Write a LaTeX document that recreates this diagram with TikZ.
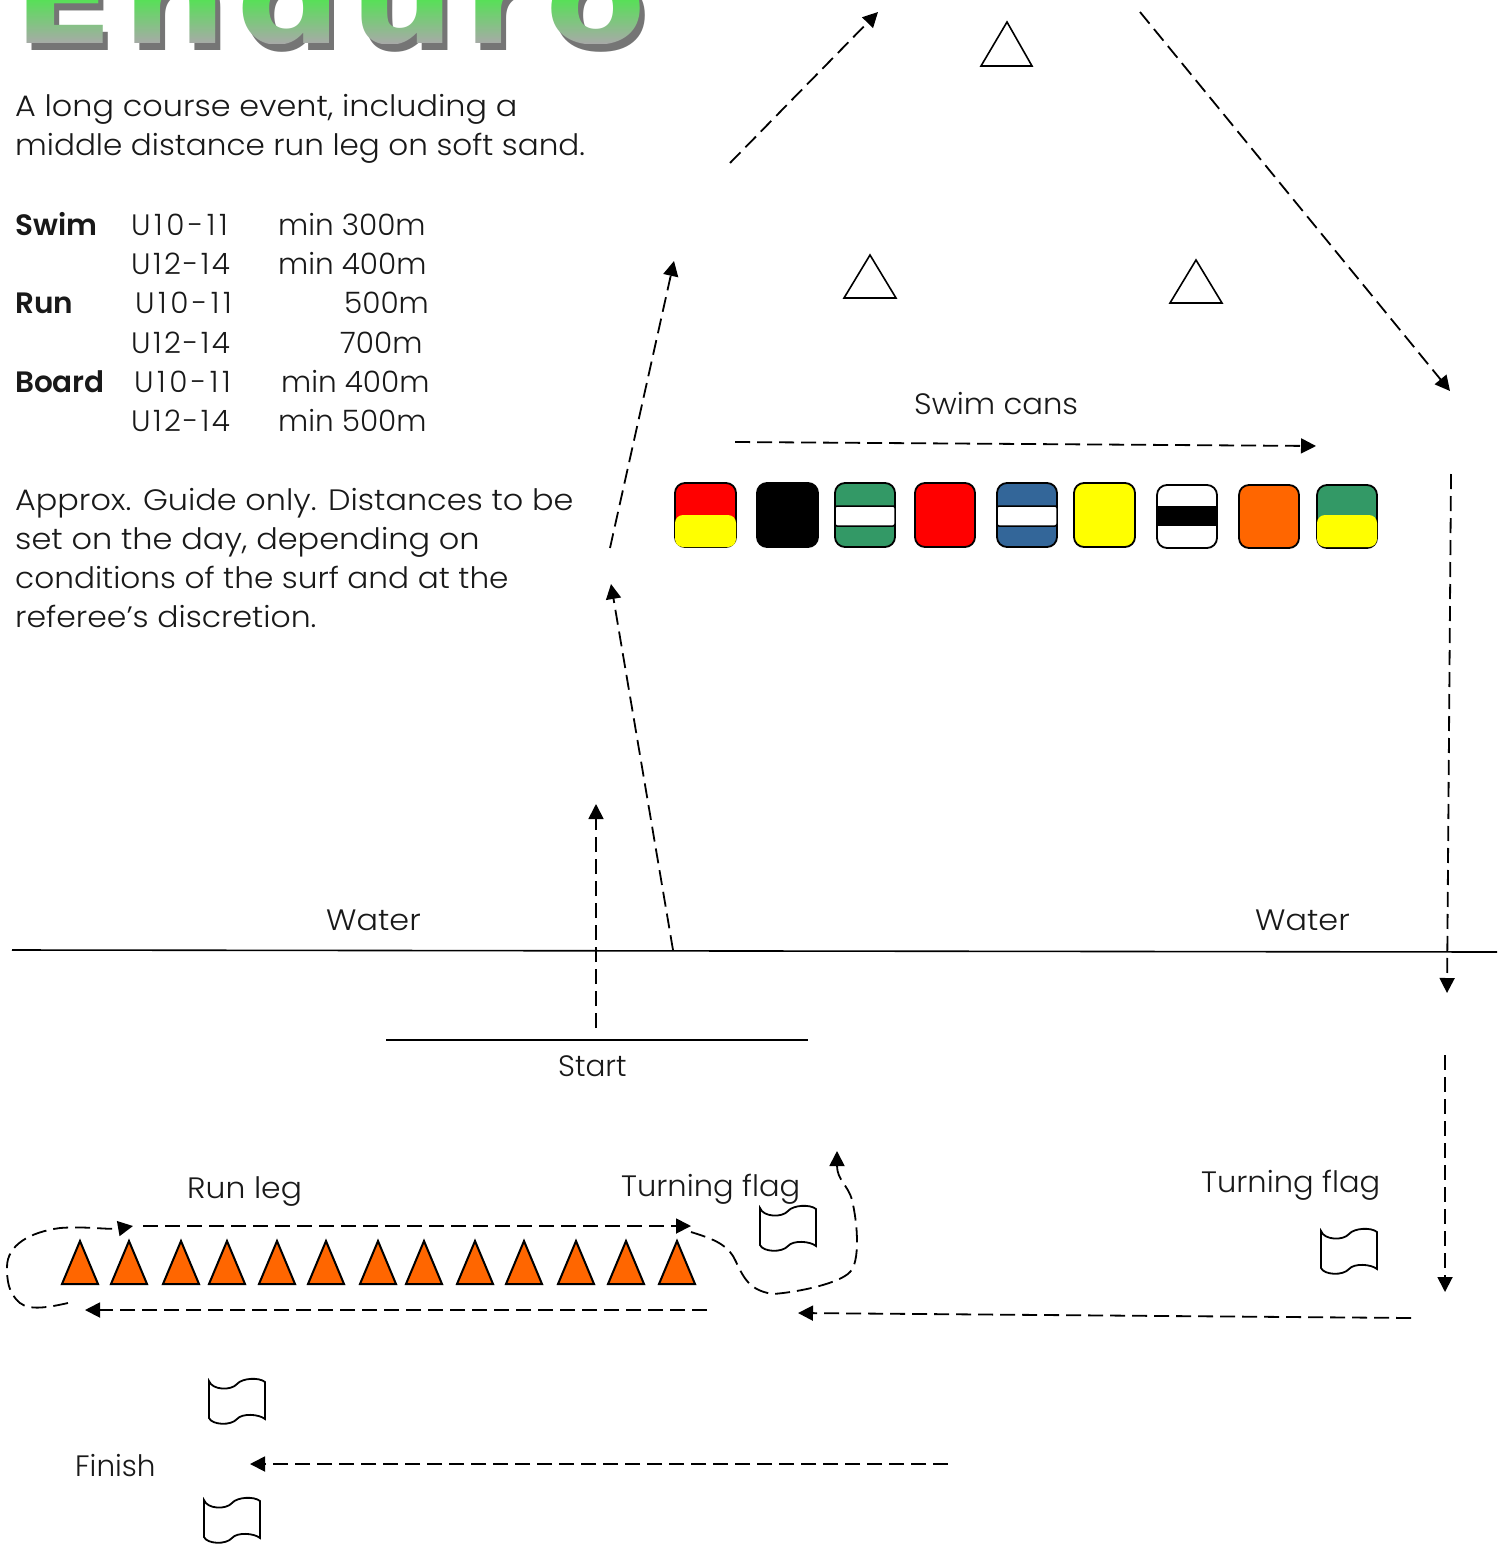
\documentclass[tikz,border=0pt]{standalone}
\usepackage{graphicx}
\usepackage{fontspec}
\setmainfont{Poppins Light}[BoldFont={Poppins SemiBold}]
\newfontfamily\titlefont{DejaVu Sans Bold}
\usetikzlibrary{arrows.meta,fadings}
\definecolor{cone}{HTML}{FF6600}
\definecolor{cgreen}{HTML}{339966}
\definecolor{cblue}{HTML}{336699}
\definecolor{cyel}{HTML}{FFFF00}
\definecolor{cred}{HTML}{FF0000}
\definecolor{tgreen}{HTML}{58DF58}
\definecolor{tgray}{HTML}{A9A9A9}
\definecolor{tshadow}{HTML}{757575}
\newcommand\sx[2]{\scalebox{#1}[1]{#2}}
\newcommand\ageA[1]{{\addfontfeature{LetterSpace=12}#1}}
\newcommand\ageB[1]{{\addfontfeature{LetterSpace=8}#1}}
\newcommand\wordtitle{\scalebox{1.15}[1]{\titlefont\addfontfeature{LetterSpace=6}\fontsize{128}{128}\selectfont Enduro}}
\tikzset{
 lab/.style={anchor=base west,inner sep=0pt,font=\fontsize{29.5}{30}\selectfont,text=black!90},
 blab/.style={lab,font=\fontsize{29.5}{30}\selectfont\bfseries},
 dashline/.style={line width=1.8pt,dash pattern=on 15pt off 7pt,-{Triangle[length=15pt,width=15pt]}},
 tri/.style={draw=black,line width=1.6pt,line join=miter},
 conetri/.style={tri,fill=cone,line width=2pt},
 can/.style={draw=black,line width=1.8pt,rounded corners=10pt},
 flag/.pic={\draw[line width=1.8pt,fill=white] (0,0) .. controls (3,9) and (22,10) .. (28,3) .. controls (33,-3) and (50,-4) .. (56,1) -- (56,38) .. controls (50,33) and (33,32) .. (28,38) .. controls (22,45) and (3,44) .. (0,37) -- cycle;},
}
\begin{tikzfadingfrompicture}[name=endurofade]
 \node[text=transparent!0,inner sep=0pt,anchor=center] at (0,0) {\wordtitle};
\end{tikzfadingfrompicture}
\begin{document}
\begin{tikzpicture}[x=1pt,y=-1pt]
\useasboundingbox (0,0) rectangle (1506,1544);
\fill[white] (0,0) rectangle (1506,1544);
% title
\begin{scope}
\clip (0,0) rectangle (1506,60);
\node[inner sep=0pt,anchor=base west,text=tshadow] (titleshadow) at (18,51) {\wordtitle};
\end{scope}
\coordinate (titlec) at ([shift={(-5,-7)}]titleshadow.center);
\path[path fading=endurofade,fit fading=false,fading transform={shift={(titlec)}},top color=tgreen,bottom color=tgray] (0,0) rectangle (700,44);
% text
\node[lab] (a1) at (15,117) {\sx{1.08}{A long course event, including a}};
\node[lab] (a2) at (15,156) {\sx{1.053}{middle distance run leg on soft sand.}};
\node[blab] (s0) at (15,235) {Swim};
\node[lab] (s1) at (131,235) {\ageA{U10-11}};
\node[lab] (s2) at (278,235) {min 300m};
\node[lab] (s3) at (131,274) {\ageB{U12-14}};
\node[lab] (s4) at (278,274) {min 400m};
\node[blab] (r0) at (15,313) {Run};
\node[lab] (r1) at (135,313) {\ageA{U10-11}};
\node[lab] (r2) at (344,313) {500m};
\node[lab] (r3) at (131,353) {\ageB{U12-14}};
\node[lab] (r4) at (340,353) {700m};
\node[blab] (b0) at (15,392) {Board};
\node[lab] (b1) at (134,392) {\ageA{U10-11}};
\node[lab] (b2) at (281,392) {min 400m};
\node[lab] (b3) at (131,431) {\ageB{U12-14}};
\node[lab] (b4) at (278,431) {min 500m};
\node[lab] (n1) at (15,510) {\sx{1.08}{Approx. Guide only. Distances to be}};
\node[lab] (n2) at (15,549) {\sx{1.084}{set on the day, depending on}};
\node[lab] (n3) at (15,588) {\sx{1.056}{conditions of the surf and at the}};
\node[lab] (n4) at (15,627) {\sx{1.067}{referee’s discretion.}};
\node[lab] (swimcans) at (914,414) {\sx{1.04}{Swim cans}};
\node[lab] (w1) at (326,930) {\sx{1.08}{Water}};
\node[lab] (w2) at (1255,930) {\sx{1.08}{Water}};
\node[lab] (start) at (558,1076) {Start};
\node[lab] (runleg) at (187,1198) {\sx{1.065}{Run leg}};
\node[lab] (tf1) at (621,1196) {\sx{1.035}{Turning flag}};
\node[lab] (tf2) at (1201,1192) {\sx{1.035}{Turning flag}};
\node[lab] (finish) at (75,1476) {Finish};
% swim triangles
\draw[tri] (1007,22) -- (981,66) -- (1032,66) -- cycle;
\draw[tri] (870,255) -- (844,298) -- (896,298) -- cycle;
\draw[tri] (1196,260) -- (1170,303) -- (1222,303) -- cycle;
% cans
\draw[can,fill=cred] (675,483) rectangle (736,547);
\fill[cyel,rounded corners=8pt] (675,515) rectangle (736,547);
\draw[can,fill=black] (757,483) rectangle (818,547);
\draw[can,fill=cgreen] (835,483) rectangle (895,547);
\draw[fill=white,line width=1.5pt,rounded corners=2pt] (835,506) rectangle (895,526);
\draw[can,fill=cred] (915,483) rectangle (975,547);
\draw[can,fill=cblue] (997,483) rectangle (1057,547);
\draw[fill=white,line width=1.5pt,rounded corners=2pt] (997,506) rectangle (1057,526);
\draw[can,fill=cyel] (1074,483) rectangle (1135,547);
\draw[can,fill=white] (1157,485) rectangle (1217,548);
\fill[black] (1157,506) rectangle (1217,526);
\draw[can,fill=cone] (1239,485) rectangle (1299,548);
\draw[can,fill=cgreen] (1317,485) rectangle (1377,548);
\fill[cyel,rounded corners=8pt] (1317,515) rectangle (1377,547);
% cones
\foreach \xa in {62,111,163,209,259,308,360,406,457,506,558,608,659}
  \draw[conetri] (\xa+18,1241) -- (\xa,1284) -- (\xa+36,1284) -- cycle;
% flags
\pic at (760,1208) {flag};
\pic at (1321,1231) {flag};
\pic at (209,1381) {flag};
\pic at (204,1500) {flag};
% lines
\coordinate (wl) at (12,950); \coordinate (wr) at (1497,952);
\draw[line width=1.6pt] (wl) -- (wr);
\coordinate (sl) at (386,1040); \coordinate (sr) at (808,1040);
\draw[line width=1.6pt] (sl) -- (sr);
% connectors
\coordinate (c1a) at (730,163); \coordinate (c1b) at (878,12);
\draw[dashline] (c1a) -- (c1b);
\coordinate (c2a) at (1140,12); \coordinate (c2b) at (1450,391);
\draw[dashline] (c2a) -- (c2b);
\coordinate (c3a) at (610,548); \coordinate (c3b) at (674,261);
\draw[dashline] (c3a) -- (c3b);
\coordinate (c4a) at (673,950); \coordinate (c4b) at (611,584);
\draw[dashline] (c4a) -- (c4b);
\coordinate (c5a) at (596,1028); \coordinate (c5b) at (596,804);
\draw[dashline] (c5a) -- (c5b);
\coordinate (c6a) at (735,442); \coordinate (c6b) at (1316,446);
\draw[dashline] (c6a) -- (c6b);
\coordinate (c7a) at (1451,474); \coordinate (c7b) at (1447,993);
\draw[dashline] (c7a) -- (c7b);
\coordinate (c8a) at (1445,1055); \coordinate (c8b) at (1445,1292);
\draw[dashline] (c8a) -- (c8b);
\coordinate (c9a) at (1411,1318); \coordinate (c9b) at (798,1313);
\draw[dashline] (c9a) -- (c9b);
\coordinate (c10a) at (707,1310); \coordinate (c10b) at (85,1310);
\draw[dashline] (c10a) -- (c10b);
\coordinate (c11a) at (143,1226); \coordinate (c11b) at (691,1226);
\draw[dashline] (c11a) -- (c11b);
\coordinate (c12a) at (948,1464); \coordinate (c12b) at (250,1464);
\draw[dashline] (c12a) -- (c12b);
\coordinate (c13a) at (68,1303); \coordinate (c13b) at (133,1226);
\draw[dashline] (c13a) .. controls (50,1307) and (30,1311) .. (20,1303) .. controls (8,1293) and (7,1280) .. (7,1267) .. controls (7,1245) and (30,1232) .. (60,1228) .. controls (85,1226) and (110,1230) .. (c13b);
\coordinate (c14a) at (691,1232); \coordinate (c14b) at (837,1151);
\draw[dashline] (c14a) .. controls (710,1238) and (725,1243) .. (733,1256) .. controls (742,1272) and (745,1290) .. (773,1294) .. controls (800,1292) and (840,1283) .. (850,1272) .. controls (860,1262) and (858,1225) .. (852,1200) .. controls (848,1185) and (837,1180) .. (c14b);
\end{tikzpicture}
\end{document}
